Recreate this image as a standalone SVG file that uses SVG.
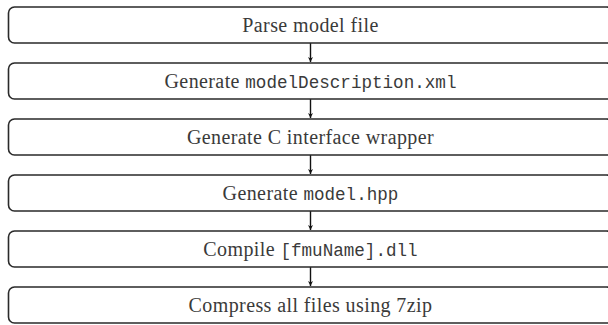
<svg xmlns="http://www.w3.org/2000/svg" width="608" height="325" viewBox="0 0 608 325">
<style>
.box{fill:#fff;stroke:#2a2a2a;stroke-width:1.6}
.t{font-family:"Liberation Serif","DejaVu Serif",serif;font-size:20px;fill:#3a3a3a;text-anchor:middle;letter-spacing:0.4px}
.m{font-family:"Liberation Mono","DejaVu Sans Mono",monospace;font-size:17.6px;letter-spacing:0}
.c{stroke:#111;stroke-width:1.4;fill:none}
</style>
<defs>
<marker id="ah" viewBox="0 0 10 10" refX="10" refY="5" markerWidth="5" markerHeight="5" orient="auto" markerUnits="userSpaceOnUse">
<path d="M0,0 L10,5 L0,10 L3,5 Z" fill="#111"/>
</marker>
</defs>
<rect width="608" height="325" fill="#fff"/>
<g id="connectors">
<line class="c" x1="310.5" y1="43" x2="310.5" y2="62" marker-end="url(#ah)"/>
<line class="c" x1="310.5" y1="99" x2="310.5" y2="118" marker-end="url(#ah)"/>
<line class="c" x1="310.5" y1="155" x2="310.5" y2="174" marker-end="url(#ah)"/>
<line class="c" x1="310.5" y1="211" x2="310.5" y2="230" marker-end="url(#ah)"/>
<line class="c" x1="310.5" y1="267" x2="310.5" y2="286" marker-end="url(#ah)"/>
</g>
<g id="n1"><rect class="box" x="8.5" y="7" width="604" height="36" rx="6"/><text class="t" x="310.5" y="32">Parse model file</text></g>
<g id="n2"><rect class="box" x="8.5" y="63" width="604" height="36" rx="6"/><text class="t" x="310.5" y="88">Generate <tspan class="m">modelDescription.xml</tspan></text></g>
<g id="n3"><rect class="box" x="8.5" y="119" width="604" height="36" rx="6"/><text class="t" x="310.5" y="144">Generate C interface wrapper</text></g>
<g id="n4"><rect class="box" x="8.5" y="175" width="604" height="36" rx="6"/><text class="t" x="310.5" y="200">Generate <tspan class="m">model.hpp</tspan></text></g>
<g id="n5"><rect class="box" x="8.5" y="231" width="604" height="36" rx="6"/><text class="t" x="310.5" y="256">Compile <tspan class="m">[fmuName].dll</tspan></text></g>
<g id="n6"><rect class="box" x="8.5" y="287" width="604" height="36" rx="6"/><text class="t" x="310.5" y="312">Compress all files using 7zip</text></g>
</svg>
